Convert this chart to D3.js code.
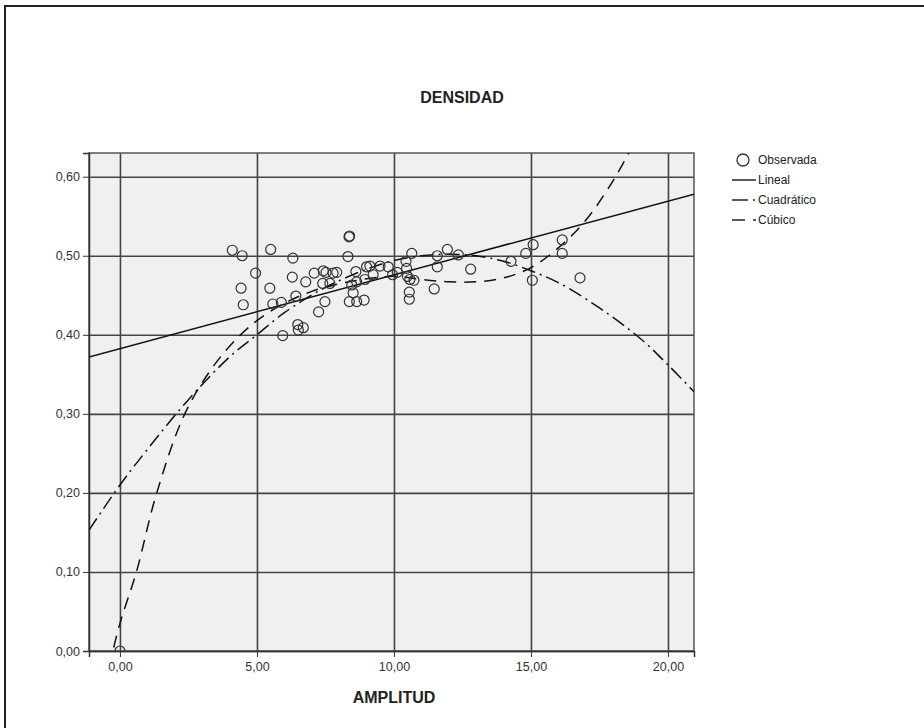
<!DOCTYPE html>
<meta charset="utf-8">
<script src="https://d3js.org/d3.v7.min.js"></script>
<style>
body { margin: 0; background: #fff; }
text { font-family: "Liberation Sans", Arial, sans-serif; fill: #222; }
.axis path, .axis line { stroke: #333; }
.axis text { font-size: 12.5px; fill: #333; }
.grid line { stroke: #444; stroke-width: 1.6; }
</style>
<div id="chart"></div>
<script>
  // Observed points (AMPLITUD, DENSIDAD)
  var obsX = [0, 4.10, 4.46, 5.50, 6.31, 4.95, 4.42, 4.50, 5.47, 5.58, 5.89, 6.29, 6.78, 6.42, 7.25,
              5.94, 6.49, 6.51, 6.69, 7.48, 8.36, 8.38, 8.32, 7.42, 7.52, 7.78, 7.91, 7.40, 7.66,
              7.09, 8.61, 9.00, 9.12, 9.49, 9.79, 9.24, 8.94, 8.64, 8.46, 8.51, 8.37, 8.64, 8.91,
              9.95, 10.12, 10.46, 10.44, 10.65, 10.49, 10.58, 10.73, 10.56, 10.56, 11.58, 11.95,
              12.35, 11.58, 12.80, 11.47, 14.27, 14.81, 15.08, 15.05, 16.14, 16.14, 16.79];
  var obsY = [0, 0.507, 0.500, 0.508, 0.497, 0.478, 0.459, 0.438, 0.459, 0.439, 0.441, 0.473, 0.467, 0.449, 0.429,
              0.399, 0.413, 0.406, 0.409, 0.442, 0.524, 0.525, 0.499, 0.481, 0.479, 0.478, 0.479, 0.465, 0.465,
              0.478, 0.480, 0.486, 0.487, 0.487, 0.486, 0.476, 0.470, 0.467, 0.463, 0.453, 0.442, 0.442, 0.444,
              0.476, 0.479, 0.484, 0.493, 0.503, 0.474, 0.470, 0.469, 0.454, 0.445, 0.500, 0.508,
              0.501, 0.486, 0.483, 0.458, 0.493, 0.503, 0.514, 0.469, 0.520, 0.503, 0.472];

  // Fitted curves
  var linX = [-1.13, 20.95];
  var linY = [0.372, 0.578];
  var quadX = [-1.13, 0, 1, 2.5, 4, 5, 6, 7.5, 9, 10, 11, 12, 13, 14, 15, 16, 17.5, 19, 20, 20.95];
  var quadY = [0.153, 0.21, 0.255, 0.318, 0.372, 0.40, 0.428, 0.46, 0.483, 0.494, 0.50, 0.502, 0.50,
               0.493, 0.481, 0.466, 0.434, 0.395, 0.362, 0.328];
  var cubX = [-0.4, 0, 0.6, 1.3, 2.3, 3.3, 4.4, 5.5, 7, 8.5, 10, 11, 12, 13, 14, 15, 16, 17, 18, 18.8];
  var cubY = [-0.02, 0.035, 0.10, 0.195, 0.295, 0.355, 0.40, 0.43, 0.455, 0.468, 0.474, 0.47, 0.467,
              0.467, 0.472, 0.485, 0.51, 0.545, 0.595, 0.645];

  var xTicks = [0, 5, 10, 15, 20];
  var yTicks = [0, 0.1, 0.2, 0.3, 0.4, 0.5, 0.6];
  var legendLabels = ["Observada", "Lineal", "Cuadrático", "Cúbico"];

  var W = 924, H = 728;
  var svg = d3.select("#chart").append("svg")
              .attr("width", W).attr("height", H);

  // frame
  svg.append("rect")
     .attr("x", 5).attr("y", 6).attr("width", W + 10).attr("height", H + 10)
     .attr("fill", "none").attr("stroke", "#222").attr("stroke-width", 2);

  var x = d3.scaleLinear().domain([-1.13, 20.95]).range([89, 694]);
  var y = d3.scaleLinear().domain([0, 0.630]).range([651, 153]);

  var loc = d3.formatLocale({ decimal: ",", thousands: ".", grouping: [3], currency: ["", ""] });
  var fmt = loc.format(".2f");

  svg.append("rect")
     .attr("x", x.range()[0]).attr("y", y.range()[1])
     .attr("width", x.range()[1] - x.range()[0])
     .attr("height", y.range()[0] - y.range()[1])
     .attr("fill", "#f0f0f0");

  svg.append("clipPath").attr("id", "clip")
     .append("rect")
     .attr("x", x.range()[0]).attr("y", y.range()[1])
     .attr("width", x.range()[1] - x.range()[0])
     .attr("height", y.range()[0] - y.range()[1]);

  // gridlines
  svg.append("g").attr("class", "grid")
     .attr("transform", "translate(0," + y.range()[1] + ")")
     .call(d3.axisBottom(x).tickValues(xTicks).tickFormat("").tickSize(y.range()[0] - y.range()[1]))
     .call(function (g) { g.select(".domain").remove(); });
  svg.append("g").attr("class", "grid")
     .attr("transform", "translate(" + x.range()[1] + ",0)")
     .call(d3.axisLeft(y).tickValues(yTicks).tickFormat("").tickSize(x.range()[1] - x.range()[0]))
     .call(function (g) { g.select(".domain").remove(); });

  // plot border
  svg.append("rect")
     .attr("x", x.range()[0]).attr("y", y.range()[1])
     .attr("width", x.range()[1] - x.range()[0])
     .attr("height", y.range()[0] - y.range()[1])
     .attr("fill", "none").attr("stroke", "#555").attr("stroke-width", 1.5);

  // axes
  svg.append("g").attr("class", "axis")
     .attr("transform", "translate(0," + y.range()[0] + ")")
     .call(d3.axisBottom(x).tickValues(xTicks).tickFormat(fmt).tickSize(6).tickPadding(5))
     .call(function (g) { g.select(".domain").attr("stroke-width", 1.5); });
  svg.append("g").attr("class", "axis")
     .attr("transform", "translate(" + x.range()[0] + ",0)")
     .call(d3.axisLeft(y).tickValues(yTicks).tickFormat(fmt).tickSize(6).tickPadding(3))
     .call(function (g) { g.select(".domain").attr("stroke-width", 1.5); });

  // curves
  var plot = svg.append("g").attr("clip-path", "url(#clip)");
  var line = d3.line().x(function (d) { return x(d[0]); }).y(function (d) { return y(d[1]); });
  var smooth = d3.line().curve(d3.curveCatmullRom)
                 .x(function (d) { return x(d[0]); }).y(function (d) { return y(d[1]); });

  plot.append("path").datum(d3.zip(linX, linY))
      .attr("d", line).attr("fill", "none").attr("stroke", "#111").attr("stroke-width", 1.5);
  plot.append("path").datum(d3.zip(quadX, quadY))
      .attr("d", smooth).attr("fill", "none").attr("stroke", "#111").attr("stroke-width", 1.5)
      .attr("stroke-dasharray", "14,5,2,5");
  plot.append("path").datum(d3.zip(cubX, cubY))
      .attr("d", smooth).attr("fill", "none").attr("stroke", "#111").attr("stroke-width", 1.5)
      .attr("stroke-dasharray", "12,8");

  // observed points
  plot.selectAll("circle.obs")
      .data(d3.zip(obsX, obsY))
      .enter().append("circle")
      .attr("class", "obs")
      .attr("cx", function (d) { return x(d[0]); })
      .attr("cy", function (d) { return y(d[1]); })
      .attr("r", 5)
      .attr("fill", "none").attr("stroke", "#333").attr("stroke-width", 1.2);

  // titles
  svg.append("text").attr("x", 462).attr("y", 103).attr("text-anchor", "middle")
     .style("font-size", "16px").style("font-weight", "bold").text("DENSIDAD");
  svg.append("text").attr("x", 394).attr("y", 703).attr("text-anchor", "middle")
     .style("font-size", "16px").style("font-weight", "bold").text("AMPLITUD");

  // legend
  var lg = svg.append("g").attr("transform", "translate(732,160)");
  lg.append("circle").attr("cx", 11).attr("cy", 0).attr("r", 6)
    .attr("fill", "none").attr("stroke", "#333").attr("stroke-width", 1.3);
  var dashes = [null, null, "16,5,2,20", "13,8,4,20"];
  legendLabels.forEach(function (lab, i) {
    var yy = i * 20;
    if (i > 0) {
      var l = lg.append("line").attr("x1", 0).attr("x2", 24).attr("y1", yy).attr("y2", yy)
                .attr("stroke", "#222").attr("stroke-width", 1.5);
      if (dashes[i]) l.attr("stroke-dasharray", dashes[i]);
    }
    lg.append("text").attr("x", 26).attr("y", yy + 4).style("font-size", "12px").text(lab);
  });
</script>
